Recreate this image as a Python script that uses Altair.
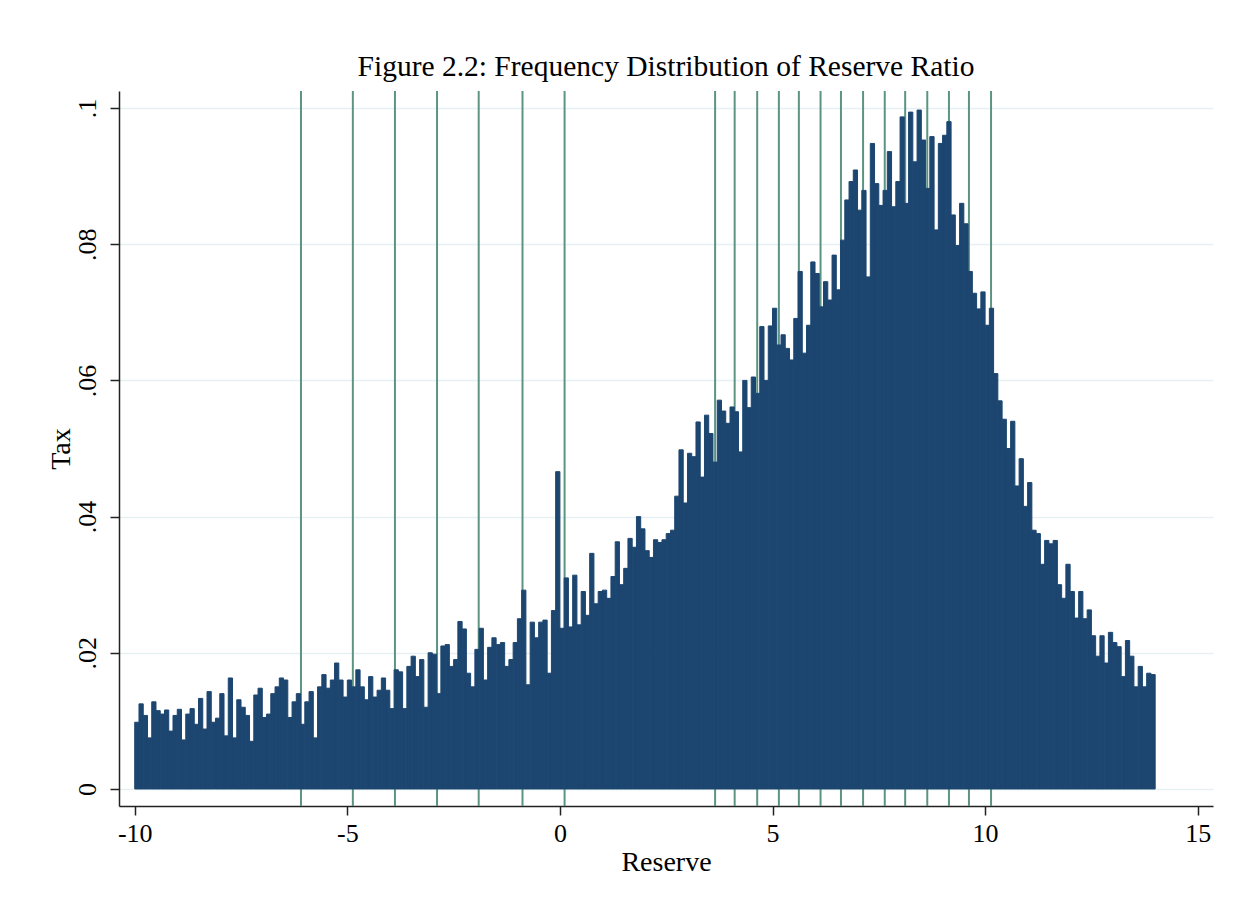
import altair as alt
import pandas as pd

# Histogram heights (density) per 0.1-wide bin, one list per unit of Reserve
d_m10 = [.0098, .0125, .0108, .0075, .0128, .0115, .0110, .0116, .0085, .0108]
d_m9 = [.0117, .0072, .0110, .0118, .0095, .0133, .0088, .0143, .0098, .0104]
d_m8 = [.0140, .0078, .0163, .0075, .0131, .0120, .0108, .0070, .0138, .0148]
d_m7 = [.0105, .0110, .0140, .0150, .0163, .0160, .0105, .0128, .0140, .0095]
d_m6 = [.0128, .0143, .0075, .0150, .0168, .0148, .0160, .0185, .0160, .0135]
d_m5 = [.0160, .0150, .0175, .0150, .0131, .0165, .0135, .0145, .0163, .0145]
d_m4 = [.0118, .0175, .0172, .0118, .0180, .0195, .0165, .0190, .0120, .0200]
d_m3 = [.0198, .0140, .0210, .0212, .0180, .0190, .0246, .0235, .0170, .0150]
d_m2 = [.0205, .0236, .0160, .0208, .0222, .0212, .0215, .0180, .0190, .0215]
d_m1 = [.0250, .0292, .0153, .0245, .0222, .0245, .0248, .0170, .0262, .0466]
d_0 = [.0236, .0310, .0238, .0314, .0241, .0290, .0255, .0346, .0272, .0290]
d_1 = [.0292, .0280, .0312, .0363, .0300, .0324, .0368, .0355, .0400, .0382]
d_2 = [.0350, .0340, .0366, .0362, .0366, .0375, .0380, .0430, .0498, .0420]
d_3 = [.0493, .0488, .0539, .0458, .0549, .0522, .0480, .0571, .0555, .0537]
d_4 = [.0561, .0554, .0495, .0600, .0560, .0605, .0581, .0679, .0600, .0680]
d_5 = [.0706, .0652, .0667, .0647, .0630, .0691, .0760, .0640, .0681, .0774]
d_6 = [.0757, .0708, .0745, .0718, .0784, .0733, .0806, .0865, .0892, .0909]
d_7 = [.0850, .0879, .0752, .0948, .0889, .0857, .0879, .0936, .0855, .0892]
d_8 = [.0987, .0860, .0994, .0921, .0997, .0953, .0882, .0958, .0821, .0948]
d_9 = [.0960, .0980, .0843, .0798, .0860, .0830, .0760, .0728, .0705, .0730]
d_10 = [.0681, .0706, .0610, .0570, .0543, .0500, .0540, .0445, .0485, .0415]
d_11 = [.0450, .0380, .0375, .0330, .0365, .0360, .0365, .0300, .0280, .0330]
d_12 = [.0290, .0251, .0290, .0250, .0263, .0225, .0195, .0225, .0185, .0230]
d_13 = [.0215, .0209, .0165, .0218, .0195, .0150, .0180, .0150, .0170, .0168]

units = [d_m10, d_m9, d_m8, d_m7, d_m6, d_m5, d_m4, d_m3, d_m2, d_m1,
         d_0, d_1, d_2, d_3, d_4, d_5, d_6, d_7, d_8, d_9, d_10, d_11, d_12, d_13]
first_bin = -10
bin_width = 0.1

# Reference lines (xline) positions
xlines = [-6.09, -4.87, -3.88, -2.89, -1.91, -0.88, 0.11,
          3.65, 4.11, 4.64, 5.15, 5.62, 6.13, 6.61, 7.13, 7.64,
          8.12, 8.64, 9.15, 9.62, 10.14]

x_ticks = [-10, -5, 0, 5, 10, 15]
y_ticks = [0, 0.02, 0.04, 0.06, 0.08, 0.1]

density = [v for u in units for v in u]
left = [round(first_bin + bin_width * i, 3) for i in range(len(density))]
right = [round(l + bin_width, 3) for l in left]
df = pd.DataFrame({"left": left, "right": right, "density": density})
df_lines = pd.DataFrame({"xl": xlines})

FONT = "Liberation Serif"
x_scale = alt.Scale(domain=[-10.37, 15.36], nice=False, zero=False)
y_scale = alt.Scale(domain=[-0.0025, 0.1025], nice=False, zero=False)

x_axis = alt.Axis(values=x_ticks, labelExpr="datum.value + ''", grid=False,
                  tickSize=9, tickWidth=1.5, tickColor="#222", domainColor="#222",
                  domainWidth=1.5, labelFont=FONT, labelFontSize=26, labelColor="#000",
                  labelPadding=5, titleFont=FONT, titleFontSize=28, titleFontWeight="normal",
                  titleColor="#000", titlePadding=2)
y_axis = alt.Axis(values=y_ticks,
                  labelExpr="datum.value == 0 ? '0' : (datum.value > 0.099 ? '.1' : '.0' + round(datum.value * 100))",
                  grid=True, gridColor="#e6eff1", gridWidth=1.5,
                  tickSize=9, tickWidth=1.5, tickColor="#222", domainColor="#222",
                  domainWidth=1.5, labelFont=FONT, labelFontSize=26, labelColor="#000",
                  labelAngle=270, labelAlign="center", labelBaseline="bottom",
                  labelPadding=10, titleFont=FONT, titleFontSize=28,
                  titleFontWeight="normal", titleColor="#000", titlePadding=-1)

rules = alt.Chart(df_lines).mark_rule(color="#5c9484", strokeWidth=2).encode(
    x=alt.X("xl:Q", scale=x_scale, axis=x_axis, title="Reserve")
)

bars = alt.Chart(df).mark_rect(color="#1c4670", stroke="#1c4670", strokeWidth=1).encode(
    x=alt.X("left:Q", scale=x_scale, axis=x_axis, title="Reserve"),
    x2="right:Q",
    y=alt.Y("density:Q", scale=y_scale, axis=y_axis, title="Tax"),
    y2=alt.datum(0),
)

chart = alt.layer(rules, bars).properties(
    width=1094,
    height=715,
    title=alt.TitleParams("Figure 2.2: Frequency Distribution of Reserve Ratio",
                          font=FONT, fontSize=29.5, fontWeight="normal", color="#000",
                          anchor="middle", offset=8),
    autosize=alt.AutoSizeParams(type="none"),
    padding={"left": 111, "top": 83, "right": 12, "bottom": 88},
    background="white",
).configure_view(strokeWidth=0)

chart.save("out.html", embed_options={"renderer": "svg", "actions": False})
